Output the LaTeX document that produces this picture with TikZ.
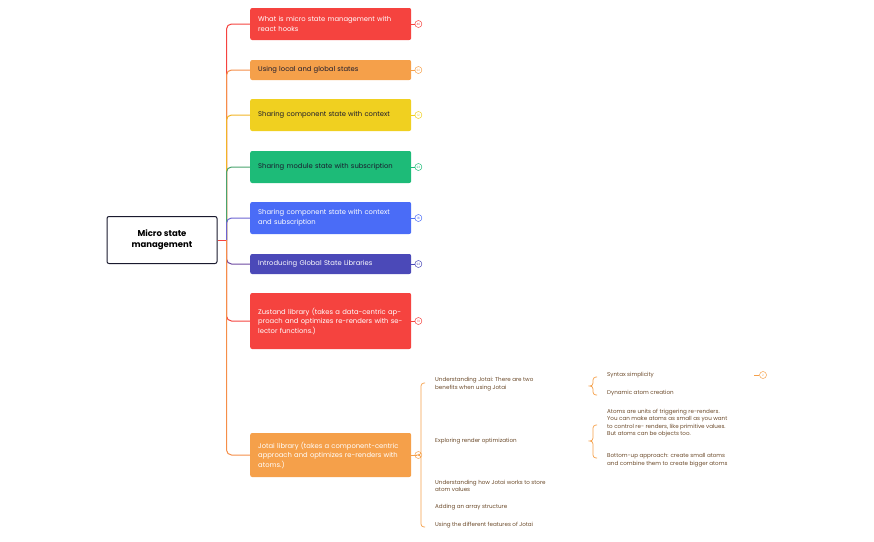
\documentclass[tikz,border=0pt]{standalone}
\usepackage{fontspec}
\setmainfont{Poppins}
\usetikzlibrary{calc}
\definecolor{cred}{HTML}{F5433F}
\definecolor{corange}{HTML}{F5A04A}
\definecolor{cyellow}{HTML}{F0D020}
\definecolor{cgreen}{HTML}{1DBB78}
\definecolor{cblue}{HTML}{4A6CF7}
\definecolor{cindigo}{HTML}{4B49B8}
\definecolor{cbrown}{HTML}{6B4A2A}
\definecolor{cdark}{HTML}{1A1A2E}
\tikzset{
  topic/.style={rounded corners=2pt, minimum width=161pt, text width=145pt, align=left, inner sep=0pt, font=\fontsize{6.8}{9.5}\selectfont, anchor=west},
  sub/.style={font=\fontsize{5.6}{7.6}\selectfont, text=cbrown, align=left, anchor=west, inner sep=0pt},
  badge/.style={circle, draw, line width=0.5pt, minimum size=7pt, inner sep=0pt, font=\fontsize{3}{3}\selectfont},
  br/.style={line width=0.7pt, rounded corners=3pt},
}
\begin{document}
\begin{tikzpicture}[x=1pt,y=-1pt]
\useasboundingbox (0,0) rectangle (874,541);
\node[draw=cdark, fill=white, line width=1pt, rounded corners=2pt, minimum width=110pt, minimum height=47pt, align=center, font=\bfseries\fontsize{8.5}{11}\selectfont] (root) at (162,240) {Micro state\\management};
\node[topic, fill=cred, text=white, minimum height=32pt] (t1) at (250,24) {What is micro state management with react hooks};
\node[topic, fill=corange, text=cdark, minimum height=20pt] (t2) at (250,70) {Using local and global states};
\node[topic, fill=cyellow, text=cdark, minimum height=32pt] (t3) at (250,115) {Sharing component state with context};
\node[topic, fill=cgreen, text=cdark, minimum height=32pt] (t4) at (250,167) {Sharing module state with subscription};
\node[topic, fill=cblue, text=white, minimum height=32pt] (t5) at (250,218) {Sharing component state with context and subscription};
\node[topic, fill=cindigo, text=white, minimum height=20pt] (t6) at (250,264) {Introducing Global State Libraries};
\node[topic, fill=cred, text=white, minimum height=56pt] (t7) at (250,321) {Zustand library (takes a data-centric approach and optimizes re-renders with selector functions.)};
\node[topic, fill=corange, text=white, minimum height=44pt] (t8) at (250,455) {Jotai library (takes a component-centric approach and optimizes re-renders with atoms.)};
\coordinate (r) at ($(root.east)+(9,0)$);
\draw[cred, line width=1pt] (root.east) -- (r);
\foreach \t/\c/\n in {t1/cred/40,t2/corange/22,t3/cyellow/12,t4/cgreen/23,t5/cblue/18,t6/cindigo/23,t7/cred/13,t8/corange/2}{
  \draw[\c!80!cred, line width=1pt, rounded corners=5pt] (r) -- (r |- \t.west) -- (\t.west);
  \node[badge, draw=\c, text=\c] (b\t) at ($(\t.east)+(7,0)$) {\n};
  \draw[\c, line width=0.5pt] (\t.east) -- (b\t);
}
% Jotai subtopics
\node[sub] (j1) at (435,384) {Understanding Jotai: There are two\\benefits when using Jotai};
\node[sub] (j2) at (435,441) {Exploring render optimization};
\node[sub] (j3) at (435,486) {Understanding how Jotai works to store\\atom values};
\node[sub] (j4) at (435,507) {Adding an array structure};
\node[sub] (j5) at (435,525) {Using the different features of Jotai};
\coordinate (jt) at (417,455);
\draw[corange, line width=0.5pt] (t8.east) -- (jt);
\draw[corange, br] (425,383) -- (421,383) -- (421,455) -- (jt) -- (421,455) -- (421,527) -- (425,527);
% sub-sub
\node[sub] (s1) at (607,375) {Syntax simplicity};
\node[sub] (s2) at (607,393) {Dynamic atom creation};
\node[badge, draw=corange, text=corange] (bs1) at (763,375) {2};
\draw[corange, line width=0.5pt] (s1.east) ++(100,0) -- (bs1);
\draw[corange, br] (597,377) -- (593,377) -- (593,386) -- (589,386) -- (593,386) -- (593,395) -- (597,395);
\node[sub] (s3) at (607,423) {Atoms are units of triggering re-renders.\\You can make atoms as small as you want\\to control re- renders, like primitive values.\\But atoms can be objects too.};
\node[sub] (s4) at (607,460) {Bottom-up approach: create small atoms\\and combine them to create bigger atoms};
\draw[corange, br] (597,425) -- (593,425) -- (593,441) -- (589,441) -- (593,441) -- (593,458) -- (597,458);
\end{tikzpicture}
\end{document}
